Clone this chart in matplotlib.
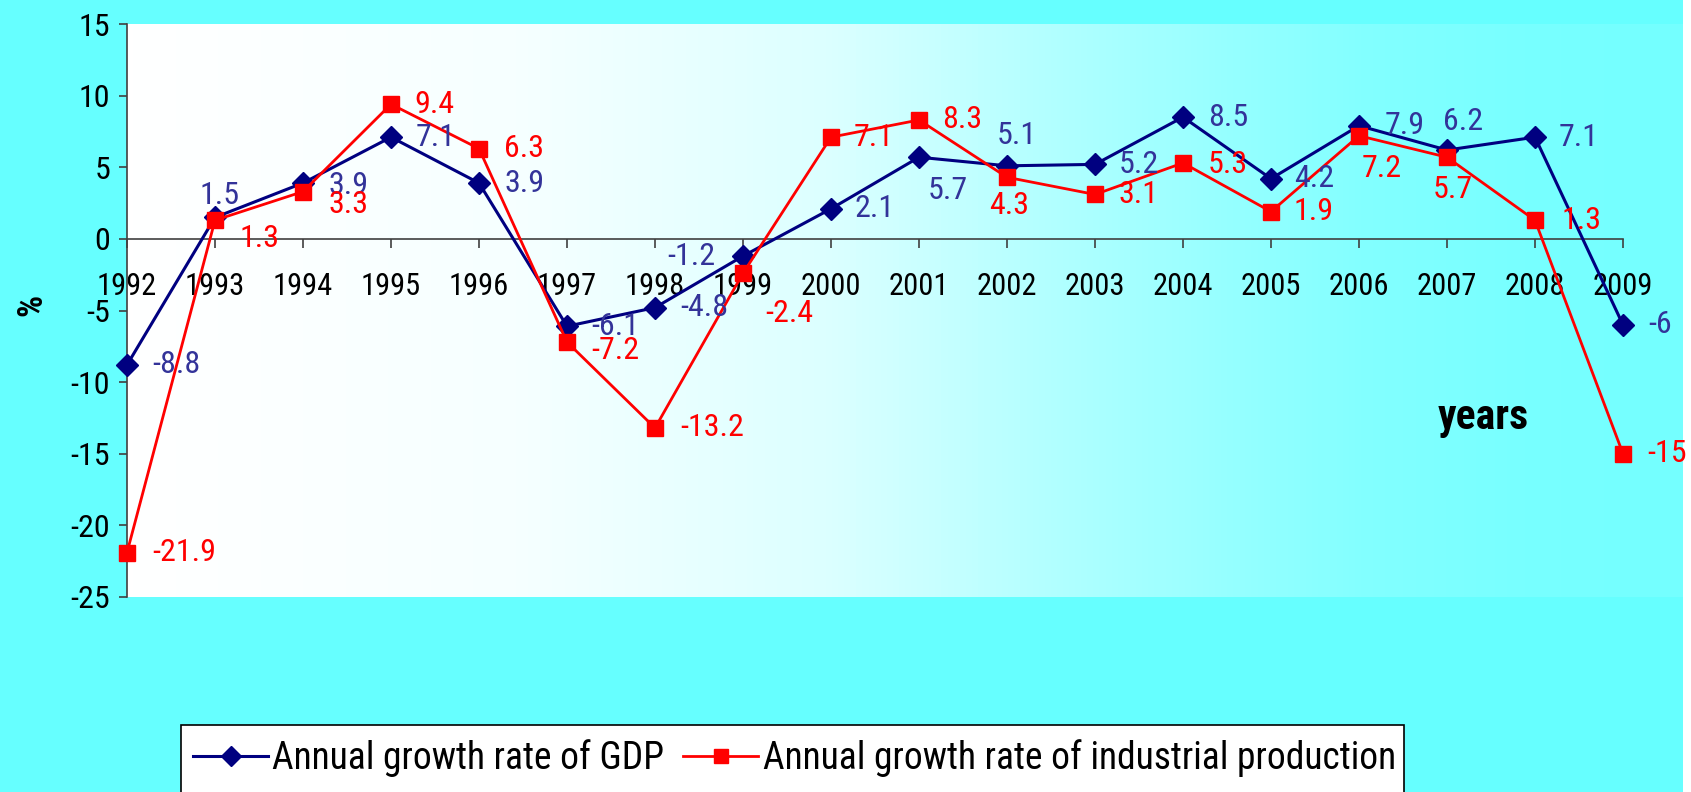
import matplotlib
matplotlib.use("Agg")
import matplotlib.pyplot as plt
import numpy as np
from matplotlib.colors import LinearSegmentedColormap
from matplotlib.patches import Rectangle

# the original text is a condensed Arial, Roboto Condensed is the closest we have
plt.rcParams["font.family"] = ["Roboto Condensed", "Archivo Narrow", "Liberation Sans", "DejaVu Sans"]
plt.rcParams["axes.unicode_minus"] = False

years = list(range(1992, 2010))
gdp = [-8.8, 1.5, 3.9, 7.1, 3.9, -6.1, -4.8, -1.2, 2.1, 5.7, 5.1, 5.2, 8.5, 4.2, 7.9, 6.2, 7.1, -6]
ind = [-21.9, 1.3, 3.3, 9.4, 6.3, -7.2, -13.2, -2.4, 7.1, 8.3, 4.3, 3.1, 5.3, 1.9, 7.2, 5.7, 1.3, -15]
yticks = [-25, -20, -15, -10, -5, 0, 5, 10, 15]

# where each value label sits: (ha, dx px, dy px downwards)
gdp_pos = [("left", 25, 0), ("left", -15, -22), ("left", 25, 2), ("left", 25, 0),
           ("left", 25, 0), ("left", 24, 0), ("left", 25, 0), ("right", -28, 0),
           ("left", 23, 0), ("left", 9, 33), ("center", 10, -30), ("left", 24, 0),
           ("left", 25, 0), ("left", 23, 0), ("left", 26, 0), ("left", -4, -29),
           ("left", 24, 0), ("left", 25, 0)]
ind_pos = [("left", 25, 0), ("left", 25, 18), ("left", 25, 13), ("left", 23, 0),
           ("left", 25, 0), ("left", 24, 8), ("left", 25, 0), ("left", 22, 40),
           ("left", 23, 0), ("left", 23, 0), ("center", 2, 28), ("left", 24, 0),
           ("left", 25, 2), ("left", 23, 0), ("left", 3, 33), ("left", -14, 32),
           ("left", 27, 0), ("left", 24, 0)]

W, H = 1691, 792
fig = plt.figure(figsize=(W / 100, H / 100), dpi=100, facecolor="#66FFFF")
ax = fig.add_axes([127 / W, 1 - 597 / H, (1683 - 127) / W, (597 - 24) / H])

x0, x1 = 1992, 1992 + (1683 - 127) / 88
ax.set_xlim(x0, x1)
ax.set_ylim(-25, 15)

# white -> cyan gradient in the plot area
cmap = LinearSegmentedColormap.from_list(
    "bg", [(0, "#FFFFFF"), (0.25, "#F6FFFF"), (0.45, "#DCFFFF"), (0.6, "#B0FFFF"),
           (0.7, "#98FFFF"), (0.8, "#82FFFF"), (0.9, "#78FFFF"), (1, "#74FFFF")])
grad = np.linspace(0, 1, 512).reshape(1, -1)
ax.imshow(grad, extent=[x0, x1, -25, 15], aspect="auto", cmap=cmap, zorder=0)
ax.patch.set_visible(False)

ax.plot(years, gdp, color="#000080", lw=2.2, marker="D", ms=11, zorder=4, clip_on=False,
        label="Annual growth rate of GDP")
ax.plot(years, ind, color="#FF0000", lw=2.0, marker="s", ms=11, zorder=5, clip_on=False,
        label="Annual growth rate of industrial production")

for vals, pos, col in [(gdp, gdp_pos, "#333399"), (ind, ind_pos, "#FF0000")]:
    for yr, v, (ha, dx, dy) in zip(years, vals, pos):
        ax.annotate(f"{v:g}", (yr, v), xytext=(dx, -dy), textcoords="offset pixels",
                    ha=ha, va="center", fontsize=23, color=col, zorder=6)

for s in ["top", "right"]:
    ax.spines[s].set_visible(False)
ax.spines["bottom"].set_position(("data", 0))
ax.spines["bottom"].set_bounds(1992, 2009)
ax.spines["left"].set_bounds(-25, 15)
for s in ["bottom", "left"]:
    ax.spines[s].set_color("#404040")
    ax.spines[s].set_linewidth(1.2)

ax.set_xticks(years)
ax.set_xticklabels([str(y) for y in years])
ax.set_yticks(yticks)
ax.tick_params(axis="x", direction="out", length=6.5, width=1.2, color="#404040",
               pad=17, labelsize=22)
ax.tick_params(axis="y", direction="out", length=6, width=1.2, color="#404040",
               pad=6, labelsize=23)

fig.text(32 / W, 1 - 305 / H, "%", rotation=90, fontsize=25, fontweight="bold",
         ha="center", va="center")
fig.text(1483 / W, 1 - 418 / H, "years", fontsize=30, fontweight="bold",
         ha="center", va="center")

# legend box runs off the bottom of the picture
fig.patches.append(Rectangle((181 / W, -0.05), (1404 - 181) / W, 0.05 + (792 - 725) / H,
                             transform=fig.transFigure, facecolor="white",
                             edgecolor="black", lw=1.2, zorder=1))
fig.legend(loc="center left", bbox_to_anchor=(193 / W, 1 - 758 / H), ncol=2,
           frameon=False, fontsize=27, handlelength=2.0, handletextpad=0.12,
           columnspacing=0.5, borderpad=0, borderaxespad=0, markerscale=0.9)

# thin white strip on the right edge, kept under the axes so labels stay on top
fig.patches.append(Rectangle((1683 / W, 0), 1 - 1683 / W, 1, transform=fig.transFigure,
                             facecolor="white", edgecolor="none", zorder=-1))

fig.savefig("out.png", dpi=100, facecolor=fig.get_facecolor())
